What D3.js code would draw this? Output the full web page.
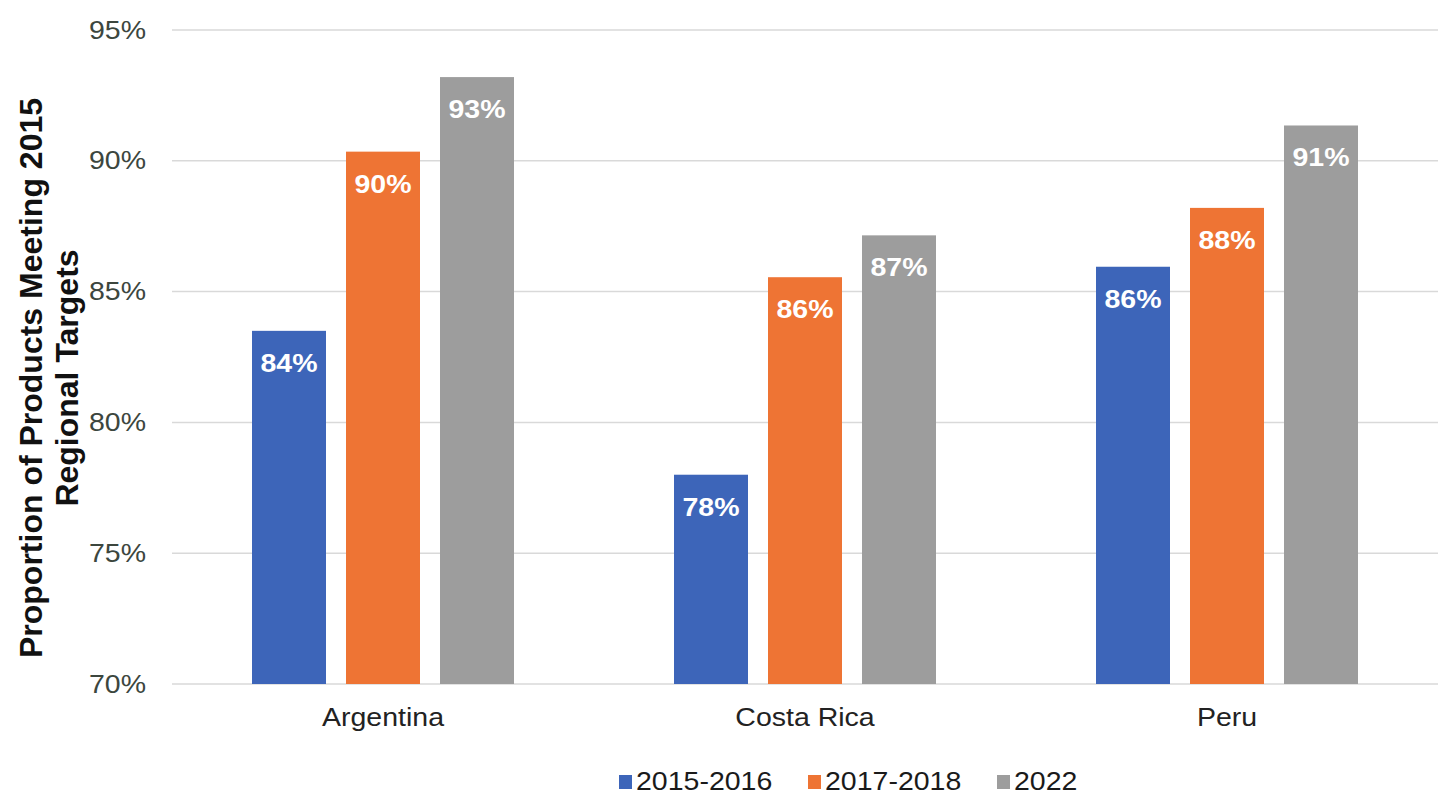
<!DOCTYPE html>
<html>
<head>
<meta charset="utf-8">
<script src="https://cdn.jsdelivr.net/npm/d3@7"></script>
<style>
  body { margin: 0; background: #fff; }
  svg text { font-family: "Liberation Sans", Arial, sans-serif; }
</style>
</head>
<body>
<div id="chart"></div>
<script>
// chart data
var countries = ['Argentina', 'Costa Rica', 'Peru'];
var seriesNames = ['2015-2016', '2017-2018', '2022'];
var values2015 = [83.5, 78.0, 85.95];
var values2017 = [90.35, 85.55, 88.2];
var values2022 = [93.2, 87.15, 91.35];
var yTicks = [70, 75, 80, 85, 90, 95];

var colors = ['#3d65b9', '#ee7434', '#9d9d9d'];

var svgWidth = 1439, svgHeight = 796;
var margin = { top: 30, right: 1, bottom: 112, left: 172 };
var width = svgWidth - margin.left - margin.right;
var height = svgHeight - margin.top - margin.bottom;

// text in the reference is a little wider than the font gives
var widen = 1.14;
function stretch(sel) {
    sel.each(function () {
        var w = this.getComputedTextLength();
        d3.select(this)
            .attr('textLength', w * widen)
            .attr('lengthAdjust', 'spacingAndGlyphs');
    });
}

var svg = d3.select('#chart').append('svg')
    .attr('width', svgWidth)
    .attr('height', svgHeight);

var g = svg.append('g')
    .attr('transform', 'translate(' + margin.left + ',' + margin.top + ')');

var seriesValues = [values2015, values2017, values2022];
var rows = countries.map(function (c, i) {
    return { country: c, values: seriesValues.map(function (s) { return s[i]; }) };
});

var x0 = d3.scaleBand().domain(countries).range([0, width]).paddingInner(0).paddingOuter(0);
var y = d3.scaleLinear().domain([70, 95]).range([height, 0]);

// gridlines
g.selectAll('.grid')
    .data(yTicks)
    .enter().append('line')
    .attr('x1', 0).attr('x2', width)
    .attr('y1', function (d) { return y(d); })
    .attr('y2', function (d) { return y(d); })
    .attr('stroke', '#d9d9d9')
    .attr('stroke-width', 1.5);

// y axis labels
var yAxis = d3.axisLeft(y).tickValues(yTicks).tickSize(0).tickPadding(26)
    .tickFormat(function (d) { return d + '%'; });
g.append('g').call(yAxis)
    .call(function (a) { a.select('.domain').remove(); })
    .selectAll('text')
    .attr('font-size', 25)
    .attr('fill', '#3c463e')
    .style('font-family', '"Liberation Sans", Arial, sans-serif')
    .call(stretch);

// x axis labels
var xAxis = d3.axisBottom(x0).tickSize(0).tickPadding(24);
g.append('g').attr('transform', 'translate(0,' + height + ')').call(xAxis)
    .call(function (a) { a.select('.domain').remove(); })
    .selectAll('text')
    .attr('font-size', 25)
    .attr('fill', '#222')
    .style('font-family', '"Liberation Sans", Arial, sans-serif')
    .call(stretch);

// bars
var barW = 74, gap = 20;
var groupW = barW * 3 + gap * 2;
var x1 = d3.scaleBand().domain(d3.range(3)).range([0, groupW]).paddingInner(gap / (barW + gap)).paddingOuter(0);

var groups = g.selectAll('.group')
    .data(rows)
    .enter().append('g')
    .attr('transform', function (d) {
        return 'translate(' + (x0(d.country) + x0.bandwidth() / 2 - groupW / 2) + ',0)';
    });

groups.selectAll('rect')
    .data(function (d) { return d.values; })
    .enter().append('rect')
    .attr('x', function (d, i) { return x1(i); })
    .attr('width', x1.bandwidth())
    .attr('y', function (d) { return y(d); })
    .attr('height', function (d) { return height - y(d); })
    .attr('fill', function (d, i) { return colors[i]; });

groups.selectAll('.lbl')
    .data(function (d) { return d.values; })
    .enter().append('text')
    .attr('class', 'lbl')
    .attr('x', function (d, i) { return x1(i) + x1.bandwidth() / 2; })
    .attr('y', function (d) { return y(d) + 41; })
    .attr('text-anchor', 'middle')
    .attr('font-size', 25)
    .attr('font-weight', 'bold')
    .attr('fill', '#fff')
    .text(function (d) { return Math.round(d) + '%'; })
    .call(stretch);

// y axis title
var title = svg.append('text')
    .attr('transform', 'translate(49,378) rotate(-90)')
    .attr('text-anchor', 'middle')
    .attr('font-size', 32)
    .attr('font-weight', 'bold')
    .attr('fill', '#111');
title.append('tspan').attr('x', 0).attr('dy', -7).text('Proportion of Products Meeting 2015');
title.append('tspan').attr('x', 0).attr('dy', 36).text('Regional Targets');

// legend
var legendX = [619, 808, 997];
var legend = svg.selectAll('.key')
    .data(seriesNames)
    .enter().append('g')
    .attr('transform', function (d, i) { return 'translate(' + legendX[i] + ',775)'; });

legend.append('rect')
    .attr('width', 13).attr('height', 14)
    .attr('fill', function (d, i) { return colors[i]; });

legend.append('text')
    .attr('x', 17)
    .attr('y', 15)
    .attr('font-size', 25)
    .attr('fill', '#1a1a1a')
    .text(function (d) { return d; })
    .call(stretch);
</script>
</body>
</html>
